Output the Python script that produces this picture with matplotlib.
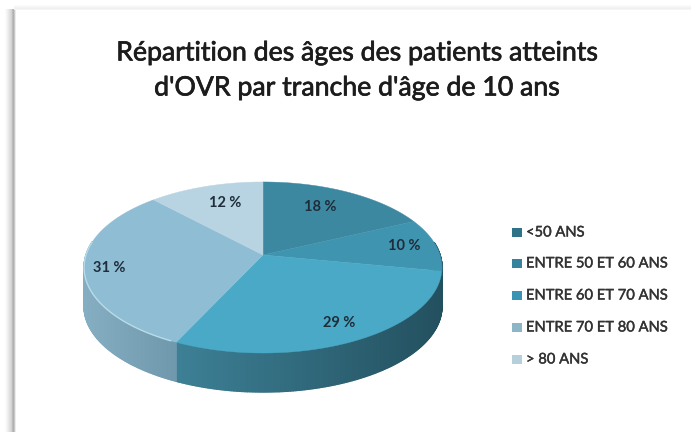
import numpy as np
import matplotlib
matplotlib.use("Agg")
import matplotlib.pyplot as plt
import matplotlib.patheffects as pe
from matplotlib.colors import to_rgb
from matplotlib.patches import Rectangle

W, H = 691, 432
title_lines = ["Répartition des âges des patients atteints", "d'OVR par tranche d'âge de 10 ans"]
categories = ["<50 ANS", "ENTRE 50 ET 60 ANS", "ENTRE 60 ET 70 ANS", "ENTRE 70 ET 80 ANS", "> 80 ANS"]
values = [18, 10, 29, 31, 12]
top_colors = ["#3d88a1", "#3f94af", "#4aa9c6", "#8fbdd3", "#b8d4e2"]
side_left = ["#2a6478", "#2a6478", "#3d8096", "#86aec2", "#a5c4d4"]
side_right = ["#2a5f72", "#2a5f72", "#23505f", "#6f98ad", "#a5c4d4"]
legend_colors = ["#2f7389", "#35839d", "#3b93b3", "#8db5c8", "#b5cfdd"]
label_xy = [(320, 207), (404, 246), (339, 323), (109, 268), (225, 203)]

CX, CY, A, B, K, DEPTH = 263, 255, 177, 83.7, 0.146, 39


def project(theta):
    u, v = np.sin(theta), np.cos(theta)
    w = 1 + K * v
    return CX + A * u / w, CY - B * v / w


fig = plt.figure(figsize=(W / 100, H / 100), dpi=100, facecolor="white")
ax = fig.add_axes([0, 0, 1, 1])
ax.set_xlim(0, W)
ax.set_ylim(H, 0)
ax.axis("off")

# slide frame shadow
for i, g in enumerate(["#fbfbfb", "#f6f6f6", "#f0f0f0", "#e9e9e9", "#e2e2e2", "#dadada", "#d2d2d2",
                       "#bdbdbd", "#b0b0b0", "#c8c8c8", "#ececec"]):
    ax.add_patch(Rectangle((5 + i, 9), 1, H - 9, fc=g, ec="none", zorder=1))
for i, g in enumerate(["#fbfbfb", "#f7f7f7", "#f3f3f3", "#f0f0f0", "#f5f5f5"]):
    ax.add_patch(Rectangle((14, 5 + i), W - 14, 1, fc=g, ec="none", zorder=1))

fractions = np.array(values, dtype=float) / sum(values)
edges = np.concatenate([[0], np.cumsum(fractions)]) * 2 * np.pi

# side wall
for i in range(len(values)):
    t0, t1 = edges[i], edges[i + 1]
    ts = np.linspace(t0, t1, 240)
    xs, ys = project(ts)
    left, right = xs.min(), xs.max()
    for j in range(len(ts) - 1):
        if ts[j] < np.pi * 0.45 or ts[j] > np.pi * 1.55:
            continue
        mid = (xs[j] + xs[j + 1]) / 2
        frac = (mid - left) / max(right - left, 1)
        c = np.array(to_rgb(side_left[i])) * (1 - frac) + np.array(to_rgb(side_right[i])) * frac
        ax.fill([xs[j], xs[j + 1], xs[j + 1], xs[j]],
                [ys[j], ys[j + 1], ys[j + 1] + DEPTH, ys[j] + DEPTH],
                fc=c, ec=c, lw=1.0, zorder=2)

# top face
for i in range(len(values)):
    ts = np.linspace(edges[i], edges[i + 1], 120)
    xs, ys = project(ts)
    ax.fill(np.r_[CX, xs], np.r_[CY, ys], fc=top_colors[i], ec=top_colors[i], lw=0.3, zorder=3)

# lighter rim
ts = np.linspace(np.pi * 1.15, np.pi * 1.55, 120)
xs, ys = project(ts)
ax.plot(xs, ys, color="#b9dbe8", lw=1.0, zorder=4)

for (x, y), v in zip(label_xy, values):
    ax.text(x, y, f"{v} %", ha="center", va="center", fontsize=10.5, fontweight="bold",
            color="#1f2d3a", family="Lato", zorder=5)

for k, line in enumerate(title_lines):
    ax.text(357, 53 + 35 * k, line, ha="center", va="center", fontsize=19.2, color="#1c1c1c",
            family="Lato", zorder=5,
            path_effects=[pe.withStroke(linewidth=0.5, foreground="#1c1c1c")])

for i, (name, col) in enumerate(zip(categories, legend_colors)):
    y = [232, 263, 295, 327, 359][i]
    ax.add_patch(Rectangle((512, y - 4.5), 10, 9, fc=col, ec="none", zorder=5))
    ax.text(526, y + 0.5, name, ha="left", va="center", fontsize=10.6, color="#333333",
            family="Lato", zorder=5,
            path_effects=[pe.withStroke(linewidth=0.3, foreground="#333333")])

fig.savefig("out.png", dpi=100, facecolor="white")
